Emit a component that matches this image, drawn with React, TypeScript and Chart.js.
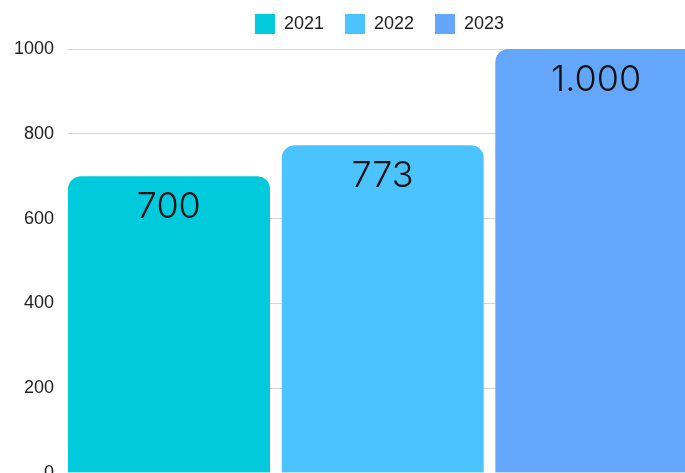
import React, { useEffect, useRef } from "react";
import { Chart, registerables } from "chart.js";

Chart.register(...registerables);

const categories: string[] = [""];
const seriesNames: string[] = ["2021", "2022", "2023"];
const values2021: number[] = [700];
const values2022: number[] = [773];
const values2023: number[] = [1000];
const seriesColors: string[] = ["#00CADC", "#4AC3FF", "#64A6FA"];
const yMin = 0;
const yMax = 1000;
const yStep = 200;

const GAP = 12;

function formatDe(v: number): string {
  return String(Math.round(v)).replace(/\B(?=(\d{3})+(?!\d))/g, ".");
}

const legendGap = {
  id: "legendGap",
  afterInit(chart: any) {
    const lg = chart.legend;
    if (!lg) return;
    const orig = lg.fit;
    lg.fit = function () {
      orig.call(this);
      this.height += 5;
    };
  },
};

const valueLabels = {
  id: "valueLabels",
  afterDatasetsDraw(chart: any) {
    const ctx = chart.ctx;
    ctx.save();
    ctx.font = "300 36px Inter, 'Open Sans', sans-serif";
    ctx.fillStyle = "#111111";
    ctx.textAlign = "center";
    ctx.textBaseline = "alphabetic";
    chart.data.datasets.forEach((ds: any, i: number) => {
      const meta = chart.getDatasetMeta(i);
      meta.data.forEach((bar: any, j: number) => {
        const v = ds.data[j];
        ctx.fillText(formatDe(v), bar.x - GAP / 2, bar.y + 42);
      });
    });
    ctx.restore();
  },
};

export default function App() {
  const ref = useRef<HTMLCanvasElement | null>(null);

  useEffect(() => {
    if (!ref.current) return;
    const seriesValues = [values2021, values2022, values2023];
    const chart = new Chart(ref.current, {
      type: "bar",
      data: {
        labels: categories,
        datasets: seriesNames.map((name, i) => ({
          label: name,
          data: seriesValues[i],
          backgroundColor: seriesColors[i],
          borderColor: "rgba(0,0,0,0)",
          borderWidth: { left: 0, right: GAP, top: 0, bottom: 0 },
          borderRadius: { topLeft: 13, topRight: 13 + GAP, bottomLeft: 0, bottomRight: 0 },
          borderSkipped: "start",
          categoryPercentage: 1,
          barPercentage: 1,
        })),
      },
      options: {
        responsive: false,
        animation: false,
        layout: { padding: { left: 8, right: 9, top: 0, bottom: 30 } },
        plugins: {
          legend: {
            position: "top",
            labels: {
              boxWidth: 20,
              boxHeight: 20,
              padding: 21,
              color: "#222222",
              font: { family: "'Liberation Sans', Arial, sans-serif", size: 18 },
            },
          },
          tooltip: { enabled: false },
        },
        scales: {
          x: { display: false },
          y: {
            min: yMin,
            max: yMax,
            afterFit(scale: any) {
              scale.width = 60;
            },
            ticks: {
              stepSize: yStep,
              padding: 14,
              color: "#222222",
              font: { family: "'Liberation Sans', Arial, sans-serif", size: 18 },
              callback: (v: any) => String(v),
            },
            grid: { color: "#d4d4d4", drawTicks: false, lineWidth: 1 },
            border: { display: false },
          },
          yRight: {
            position: "right",
            min: yMin,
            max: yMax,
            afterFit(scale: any) {
              scale.width = 42;
            },
            ticks: { display: false },
            grid: { display: false, drawTicks: false },
            border: { display: false },
          },
        },
      },
      plugins: [legendGap, valueLabels],
    } as any);
    return () => chart.destroy();
  }, []);

  return (
    <div
      style={{
        position: "fixed",
        left: 0,
        top: 0,
        width: 685,
        height: 473,
        overflow: "hidden",
        background: "#ffffff",
      }}
    >
      <canvas
        ref={ref}
        width={760}
        height={510}
        style={{ position: "absolute", left: 0, top: -7, display: "block" }}
      />
    </div>
  );
}
